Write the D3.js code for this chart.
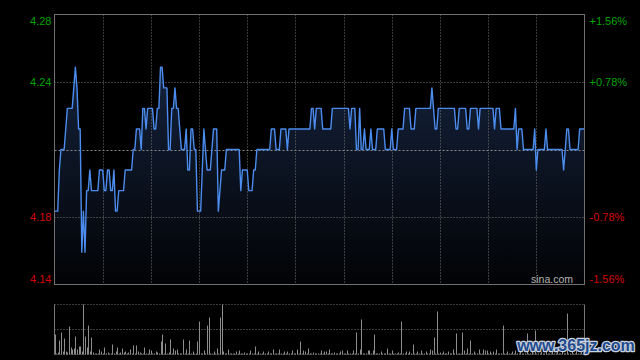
<!DOCTYPE html>
<html><head><meta charset="utf-8">
<script src="https://cdn.jsdelivr.net/npm/d3@7"></script>
<style>html,body{margin:0;padding:0;background:#000;} svg{display:block;}</style>
</head><body>
<svg id="c" width="640" height="360"></svg>
<script>
const prevClose = 4.21;
const pctRange = 0.0156;
const leftTickLabels = ["4.28","4.24","","4.18","4.14"];
const rightTickLabels = ["+1.56%","+0.78%","","-0.78%","-1.56%"];
const timeTicks = [0,30,60,90,120,150,180,210,240,270,300,330];
const prices = [
4.18,4.18,4.18,4.20,4.21,4.21,4.21,4.22,4.23,4.23,
4.23,4.23,4.24,4.25,4.24,4.22,4.22,4.16,4.18,4.16,
4.19,4.19,4.20,4.19,4.19,4.19,4.19,4.19,4.20,4.20,
4.20,4.19,4.19,4.20,4.20,4.19,4.19,4.20,4.18,4.18,
4.19,4.19,4.19,4.19,4.20,4.20,4.20,4.20,4.20,4.21,
4.21,4.22,4.22,4.22,4.21,4.23,4.23,4.22,4.23,4.23,
4.23,4.23,4.22,4.22,4.23,4.23,4.25,4.25,4.24,4.24,
4.24,4.21,4.21,4.23,4.23,4.24,4.23,4.23,4.22,4.21,
4.21,4.21,4.22,4.20,4.20,4.22,4.22,4.21,4.21,4.18,
4.18,4.18,4.20,4.22,4.21,4.20,4.20,4.20,4.21,4.22,
4.22,4.22,4.18,4.19,4.20,4.20,4.20,4.21,4.21,4.21,
4.21,4.21,4.21,4.21,4.21,4.21,4.19,4.20,4.20,4.20,
4.20,4.19,4.19,4.19,4.20,4.20,4.21,4.21,4.21,4.21,
4.21,4.21,4.21,4.21,4.21,4.22,4.22,4.22,4.21,4.21,
4.21,4.22,4.22,4.22,4.22,4.21,4.22,4.22,4.22,4.22,
4.22,4.22,4.22,4.22,4.22,4.22,4.22,4.22,4.22,4.22,
4.23,4.23,4.22,4.23,4.23,4.23,4.23,4.22,4.22,4.22,
4.22,4.22,4.22,4.23,4.23,4.23,4.23,4.23,4.23,4.23,
4.23,4.23,4.23,4.23,4.22,4.23,4.23,4.23,4.21,4.21,
4.23,4.21,4.21,4.22,4.21,4.21,4.21,4.22,4.21,4.21,
4.21,4.22,4.22,4.22,4.22,4.22,4.21,4.21,4.21,4.21,
4.22,4.21,4.21,4.21,4.22,4.22,4.22,4.22,4.23,4.23,
4.23,4.23,4.22,4.22,4.22,4.23,4.23,4.23,4.23,4.23,
4.23,4.23,4.23,4.23,4.23,4.24,4.23,4.22,4.22,4.23,
4.23,4.23,4.23,4.23,4.23,4.23,4.23,4.23,4.23,4.23,
4.22,4.22,4.23,4.23,4.23,4.23,4.23,4.22,4.22,4.23,
4.23,4.23,4.23,4.23,4.22,4.23,4.23,4.23,4.23,4.23,
4.23,4.23,4.23,4.23,4.22,4.23,4.23,4.23,4.22,4.22,
4.22,4.22,4.22,4.22,4.22,4.22,4.22,4.23,4.21,4.22,
4.22,4.22,4.21,4.21,4.21,4.21,4.21,4.21,4.21,4.22,
4.20,4.21,4.21,4.21,4.21,4.21,4.22,4.21,4.21,4.21,
4.21,4.21,4.21,4.21,4.21,4.21,4.21,4.20,4.21,4.22,
4.22,4.21,4.21,4.21,4.21,4.21,4.21,4.22,4.22,4.22,
4.22
];
const volumes = [
20,1,2,14,22,3,16,3,2,28,
7,5,6,18,5,8,8,3,50,18,
7,29,3,17,2,1,1,1,5,3,
1,7,1,2,1,1,10,1,3,7,
1,2,6,2,3,1,2,5,1,9,
1,9,3,2,1,1,7,1,1,5,
4,1,1,3,2,1,13,20,1,11,
1,2,15,1,6,4,5,1,1,1,
15,1,5,1,14,1,3,1,1,13,
33,1,1,4,1,29,37,1,1,3,
1,6,1,37,50,3,1,1,5,1,
1,1,1,3,1,4,1,1,2,1,
1,1,4,1,1,8,1,3,1,1,
3,1,1,3,1,1,5,1,1,1,
5,1,1,3,1,3,1,1,4,1,
1,5,1,13,1,4,3,1,6,1,
1,2,1,1,1,1,4,1,3,3,
1,5,1,1,2,1,1,1,3,4,
1,1,4,1,1,1,4,1,22,1,
5,35,1,1,1,4,4,1,4,20,
1,1,1,3,1,1,1,6,1,1,
4,1,1,1,2,1,33,1,1,3,
1,3,1,10,1,1,3,1,4,1,
1,3,1,1,5,4,17,1,43,1,
2,1,3,1,1,3,1,1,5,1,
21,1,1,1,22,4,1,6,1,14,
1,3,1,1,5,1,1,5,4,4,
1,3,1,3,1,5,1,1,1,29,
1,1,3,1,1,3,1,4,1,1,
3,1,1,1,21,1,1,4,1,24,
1,1,1,3,1,1,5,1,1,1,
3,1,1,4,1,1,6,1,1,41,
1,1,3,1,1,4,1,1,5,1,
2
];

const svg = d3.select("#c");
svg.append("rect").attr("width",640).attr("height",360).attr("fill","#000");

const x = d3.scaleLinear().domain([0, prices.length-1]).range([54.5, 584.5]);
const y = d3.scaleLinear().domain([prevClose*(1-pctRange), prevClose*(1+pctRange)]).range([284.5, 14.5]);
const tickVals = d3.range(5).map(i => prevClose*(1+pctRange) - i*prevClose*pctRange/2);
const vy = d3.scaleLinear().domain([0, 50]).range([354.5, 304.5]);

const defs = svg.append("defs");
const grad = defs.append("linearGradient").attr("id","fillg")
  .attr("gradientUnits","userSpaceOnUse").attr("x1",0).attr("y1",60).attr("x2",0).attr("y2",284);
grad.append("stop").attr("offset",0).attr("stop-color","#15233d");
grad.append("stop").attr("offset",1).attr("stop-color","#020305");

// area
const area = d3.area().x((d,i)=>x(i)).y0(284.5).y1(d=>y(d));
svg.append("path").datum(prices).attr("d",area).attr("fill","url(#fillg)");

// grid
const grid = svg.append("g");
grid.selectAll("line.h").data(tickVals.filter((d,i)=>i===1||i===3)).join("line")
  .attr("x1",54.5).attr("x2",584.5).attr("y1",d=>Math.round(y(d))+0.5).attr("y2",d=>Math.round(y(d))+0.5)
  .attr("stroke","#777").attr("stroke-dasharray","1,2");
grid.append("line").attr("x1",54.5).attr("x2",584.5)
  .attr("y1",Math.round(y(prevClose))+0.5).attr("y2",Math.round(y(prevClose))+0.5)
  .attr("stroke","#8a8a8a").attr("stroke-dasharray","2,2");
grid.selectAll("line.v").data(timeTicks.slice(1,-1)).join("line")
  .attr("x1",d=>Math.round(x(d))+0.5).attr("x2",d=>Math.round(x(d))+0.5).attr("y1",14.5).attr("y2",284.5)
  .attr("stroke","#777").attr("stroke-dasharray","1,2");

// price line
const line = d3.line().x((d,i)=>x(i)).y(d=>y(d));
svg.append("path").datum(prices).attr("d",line).attr("fill","none")
  .attr("stroke","#4b8cee").attr("stroke-width",1.4).attr("stroke-linejoin","round");

// border
svg.append("rect").attr("x",54.5).attr("y",14.5).attr("width",530).attr("height",270)
  .attr("fill","none").attr("stroke","#707070");

// axes labels
const colorFor = i => i < 2 ? "#00a400" : "#d80000";
const la = svg.append("g").attr("transform","translate(54.5,0)")
  .call(d3.axisLeft(y).tickValues(tickVals).tickFormat((d,i)=>leftTickLabels[i]).tickSize(0).tickPadding(3));
const ra = svg.append("g").attr("transform","translate(584.5,0)")
  .call(d3.axisRight(y).tickValues(tickVals).tickFormat((d,i)=>rightTickLabels[i]).tickSize(0).tickPadding(5));
[la, ra].forEach(g => {
  g.select(".domain").remove();
  g.selectAll("text")
    .attr("font-family","'Liberation Sans', Arial, sans-serif").attr("font-size",11)
    .attr("fill",(d,i)=>colorFor(i))
    .attr("y",(d,i)=> i===0 ? 6 : (i===4 ? -6 : 0));
});

svg.append("text").attr("x",573).attr("y",283).attr("text-anchor","end")
  .attr("font-family","'Liberation Sans', Arial, sans-serif").attr("font-size",10.5)
  .attr("fill","#b4b4b4").text("sina.com");

// volume panel
const vg = svg.append("g");
[304.5, 329.5, 354.5].forEach(yy => {
  vg.append("line").attr("x1",54.5).attr("x2",584.5).attr("y1",yy).attr("y2",yy)
    .attr("stroke","#777").attr("stroke-dasharray","1,2");
});
vg.selectAll("rect.bar").data(volumes).join("rect")
  .attr("x",(d,i)=>Math.round(x(i))).attr("width",1)
  .attr("y",d=>vy(d)).attr("height",d=>354.5-vy(d))
  .attr("fill","#8c8c8c");
[54.5, 584.5].forEach(xx => {
  vg.append("line").attr("x1",xx).attr("x2",xx).attr("y1",304.5).attr("y2",354.5).attr("stroke","#777");
});

// watermark
svg.append("text").attr("x",576).attr("y",351).attr("text-anchor","middle")
  .attr("font-family","'Liberation Sans', Arial, sans-serif").attr("font-size",16).attr("font-weight","bold")
  .attr("fill","#1f4a8e").attr("stroke","#c9d2de").attr("stroke-width",2.5)
  .attr("paint-order","stroke").attr("stroke-linejoin","round").text("www.365jz.com");
</script>
</body></html>
